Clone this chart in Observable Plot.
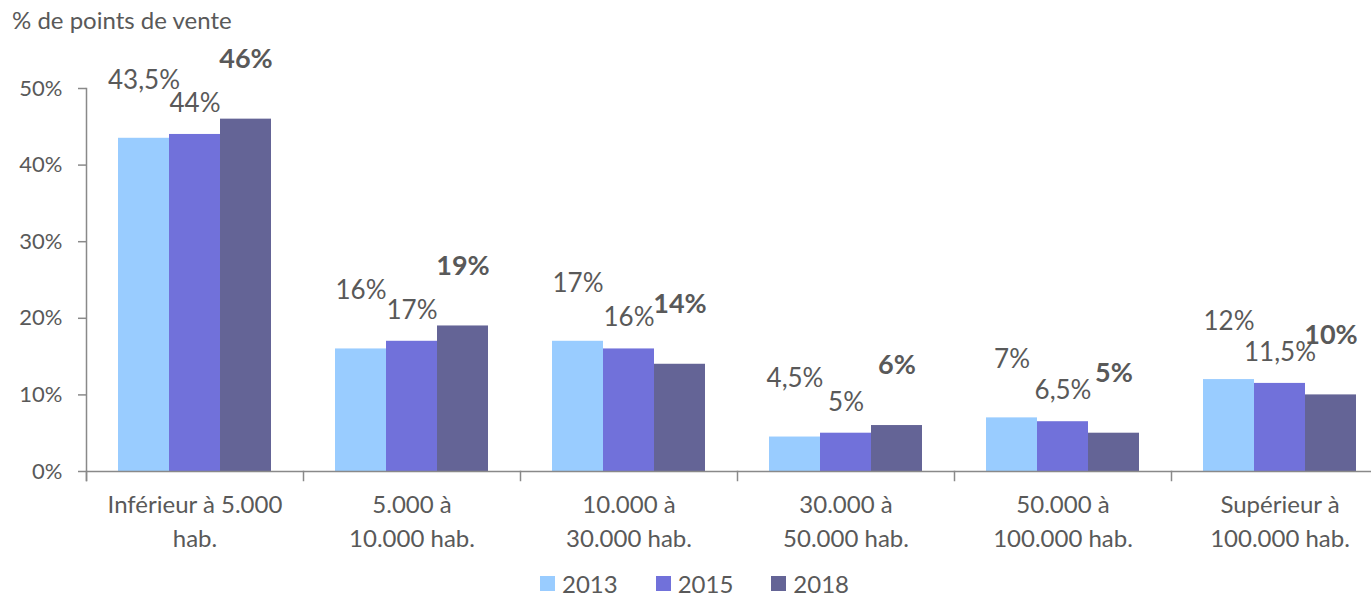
<!DOCTYPE html>
<html><head><meta charset="utf-8">
<script src="https://cdn.jsdelivr.net/npm/d3@7"></script>
<script src="https://cdn.jsdelivr.net/npm/@observablehq/plot@0.6"></script>
<style>
html,body{margin:0;padding:0;background:#fff;overflow:hidden;}
body{font-family:Lato,sans-serif;color:#595959;width:1371px;}
#title{height:40px;font-size:24px;line-height:40px;padding-left:12px;white-space:nowrap;}
#chart{width:1371px;overflow:hidden;}
#legend{display:flex;justify-content:center;align-items:center;height:46px;width:1371px;padding-left:18px;box-sizing:border-box;font-size:24px;}
.item{display:flex;align-items:center;margin:0 19px;}
.sw{width:15px;height:15px;margin-right:7px;}
</style></head><body>
<div id="title">% de points de vente</div>
<div id="chart"></div>
<div id="legend"></div>
<script>
const categories = ["Inférieur à 5.000\nhab.", "5.000 à\n10.000 hab.", "10.000 à\n30.000 hab.", "30.000 à\n50.000 hab.", "50.000 à\n100.000 hab.", "Supérieur à\n100.000 hab."];
const years = ["2013", "2015", "2018"];
const values2013 = [43.5, 16, 17, 4.5, 7, 12];
const values2015 = [44, 17, 16, 5, 6.5, 11.5];
const values2018 = [46, 19, 14, 6, 5, 10];
const yTicks = [0, 10, 20, 30, 40, 50];
const colors = ["#99CCFF", "#7171DA", "#646496"];

const series = [values2013, values2015, values2018];
const table = [];
categories.forEach((c, i) => years.forEach((y, j) => table.push({cat: c, year: y, value: series[j][i]})));
const fmt = d => String(d).replace(".", ",") + "%";
const axisGray = "#898989";
const textGray = "#595959";
const labelDy = {"2013": -58, "2015": -31, "2018": -60};

const labelMarks = years.map(y => Plot.text(table.filter(d => d.year === y), {
  fx: "cat", x: "year", y: "value", text: d => fmt(d.value),
  dy: labelDy[y], fontSize: y === "2018" ? 27 : 26, fontWeight: y === "2018" ? "bold" : "normal",
  fill: textGray
}));

const chart = Plot.plot({
  width: 1388, height: 520,
  marginTop: 48, marginBottom: 89, marginLeft: 86, marginRight: 0,
  style: {fontFamily: "Lato, sans-serif", color: textGray, overflow: "visible", background: "#fff", maxWidth: "none"},
  fx: {domain: categories, padding: 0},
  x: {domain: years, paddingInner: 0, paddingOuter: 0.6, axis: null},
  y: {domain: [0, 50]},
  color: {domain: years, range: colors},
  marks: [
    Plot.barY(table, {fx: "cat", x: "year", y: "value", fill: "year"}),
    Plot.ruleY([0], {stroke: axisGray, strokeWidth: 1.5}),
    Plot.frame({anchor: "left", insetTop: 383, insetBottom: -9, stroke: axisGray, strokeWidth: 1.5}),
    Plot.frame({anchor: "left", facet: "super", insetBottom: -9, stroke: axisGray, strokeWidth: 1.5}),
    Plot.axisY({ticks: yTicks, tickFormat: d => d + "%", tickSize: 8, tickPadding: 16, fontSize: 22, fill: textGray, stroke: axisGray, strokeWidth: 1.5, label: null}),
    Plot.axisFx({anchor: "bottom", tickSize: 0, tickPadding: 17, fontSize: 24, lineHeight: 1.43, fill: textGray, label: null}),
    ...labelMarks
  ]
});
chart.style.maxWidth = "none";
document.getElementById("chart").appendChild(chart);

const legend = document.getElementById("legend");
years.forEach((y, j) => {
  const it = document.createElement("div"); it.className = "item";
  const sw = document.createElement("div"); sw.className = "sw"; sw.style.background = colors[j];
  const t = document.createElement("span"); t.textContent = y;
  it.appendChild(sw); it.appendChild(t); legend.appendChild(it);
});
</script>
</body></html>
